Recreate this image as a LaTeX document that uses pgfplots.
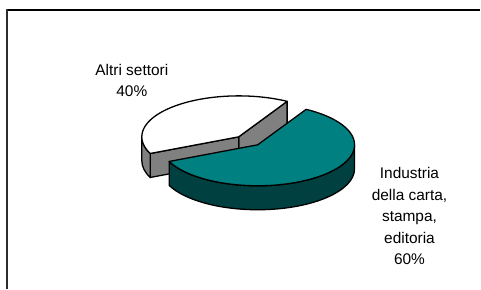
\documentclass[border=0pt]{standalone}
\usepackage{pgfplots}
\pgfplotsset{compat=1.18}
\usepackage{fontspec}
\setmainfont{Liberation Sans}
\definecolor{tealtop}{RGB}{0,128,128}
\definecolor{tealside}{RGB}{0,64,64}
\definecolor{greyside}{RGB}{128,128,128}
\definecolor{frame}{RGB}{45,45,45}
% data (percent)
\pgfmathsetmacro{\valA}{60}% Industria della carta, stampa, editoria
\pgfmathsetmacro{\valB}{40}% Altri settori
\pgfmathsetmacro{\tS}{60}
\pgfmathsetmacro{\tE}{\tS-3.6*\valA}% teal end angle
\pgfmathsetmacro{\wE}{\tS+3.6*\valB}% white end angle
\begin{document}
\begin{tikzpicture}
\begin{axis}[width=481bp,height=289bp,scale only axis,hide axis,
  xmin=0,xmax=481,ymin=0,ymax=289,clip=false]
\path (axis cs:0,0) rectangle (axis cs:481,289);
% frame
\draw[black,line width=1.2bp] (axis cs:481,279) -- (axis cs:7,279);
\draw[frame,line width=1.8bp] (axis cs:7,279.6) -- (axis cs:7,0);
% ---- white slice (Altri settori), centre (239,152)
\filldraw[fill=greyside,draw=black,line width=1.3bp,line join=round]
  (axis cs:239,152) -- (axis cs:287.5,187.5) -- (axis cs:287.5,163.5) -- (axis cs:239,128) -- cycle;
\filldraw[fill=greyside,draw=black,line width=1.3bp,line join=round]
  (axis cs:239,152) -- (axis cs:150.4,135.3) -- (axis cs:150.4,111.3) -- (axis cs:239,128) -- cycle;
\filldraw[fill=greyside,draw=black,line width=1.3bp,line join=round]
  (axis cs:142,152) arc[start angle=180,end angle=\wE,x radius=97,y radius=41]
  -- (axis cs:150.4,111.3) arc[start angle=\wE,end angle=180,x radius=97,y radius=41] -- cycle;
\addplot[fill=white,draw=black,line width=1.3bp,line join=round,domain=\tS:\wE,samples=120,variable=\t]
  ({239+97*cos(\t)},{152+41*sin(\t)}) -- (axis cs:239,152) -- cycle;
% ---- teal slice (Industria ...), centre (258,144)
\filldraw[fill=tealside,draw=black,line width=1.3bp,line join=round]
  (axis cs:169.4,127.3) arc[start angle=\tE,end angle=0,x radius=97,y radius=41]
  -- (axis cs:355,120) arc[start angle=0,end angle=\tE,x radius=97,y radius=41] -- cycle;
\addplot[fill=tealtop,draw=black,line width=1.3bp,line join=round,domain=\tE:\tS,samples=160,variable=\t]
  ({258+97*cos(\t)},{144+41*sin(\t)}) -- (axis cs:258,144) -- cycle;
% labels
\node[align=center,font=\fontsize{15.5}{21.7}\selectfont] at (axis cs:132,208.5) {Altri settori\\40\%};
\node[align=center,font=\fontsize{15.5}{21.7}\selectfont] at (axis cs:410,72.5) {Industria\\della carta,\\stampa,\\editoria\\60\%};
\end{axis}
\end{tikzpicture}
\end{document}
